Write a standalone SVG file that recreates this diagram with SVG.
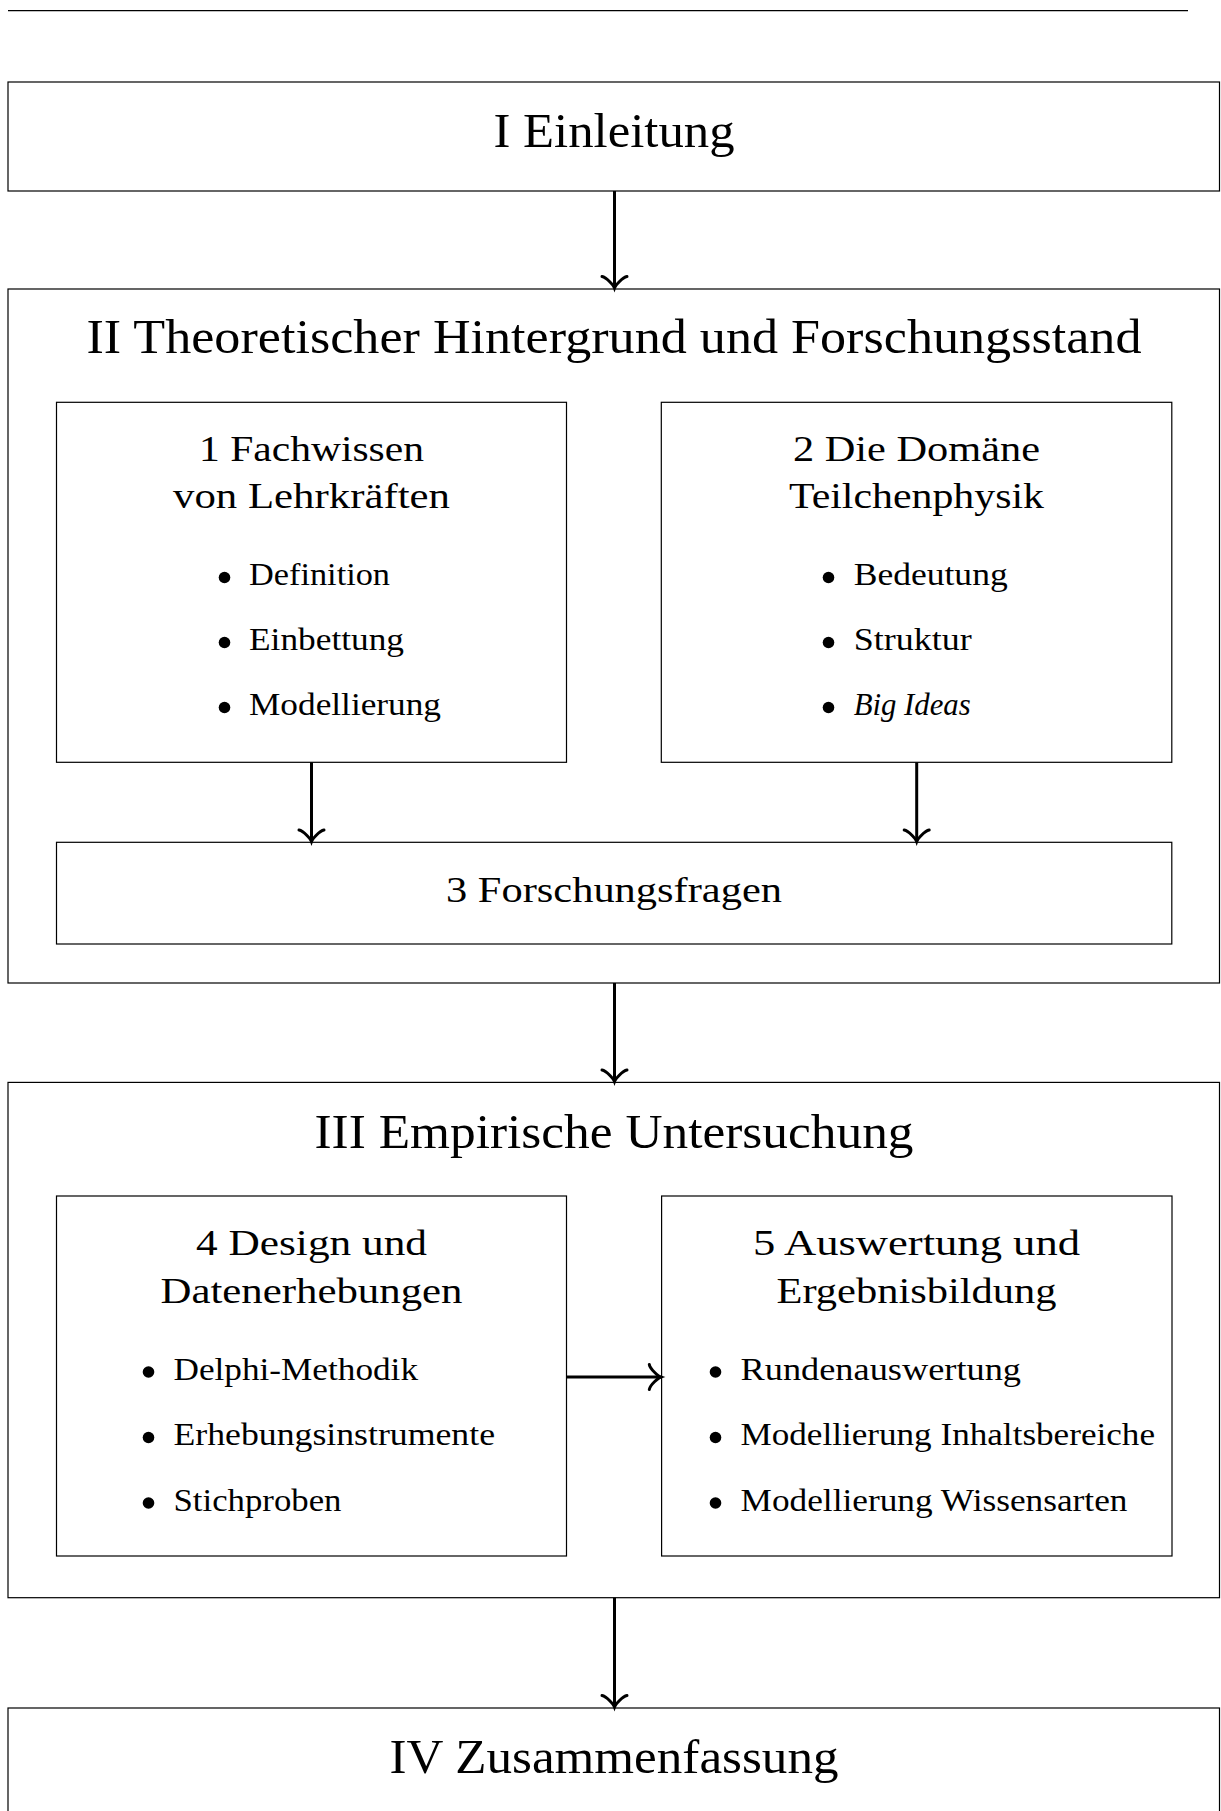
<svg xmlns="http://www.w3.org/2000/svg" width="1221" height="1811" viewBox="0 0 1221 1811">
<style>
.box{fill:none;stroke:#000;stroke-width:1.2}
.conn{fill:none;stroke:#000;stroke-width:3}
text{font-family:"Liberation Serif","Times New Roman",serif;fill:#000}
.h1{font-size:49px;text-anchor:middle}
.h2{font-size:35.5px;text-anchor:middle}
.li{font-size:31.5px}
.it{font-style:italic}
.dot{fill:#000}
</style>
<defs>
<marker id="ah" viewBox="-14 -14 16 28" markerWidth="16" markerHeight="28" refX="0" refY="0" orient="auto" markerUnits="userSpaceOnUse" overflow="visible">
<path d="M-11.5,-12.5 C-10.7,-7.8 -2.3,-0.8 0,0 C-2.3,0.8 -10.7,7.8 -11.5,12.5" fill="none" stroke="#000" stroke-width="3" stroke-linecap="round"/>
</marker>
</defs>
<rect width="1221" height="1811" fill="#fff"/>
<line x1="8" y1="10.7" x2="1188" y2="10.7" stroke="#000" stroke-width="1.3"/>

<g id="einleitung">
<rect class="box" x="8" y="82" width="1211.5" height="109"/>
<text class="h1" x="614" y="146.7" textLength="241" lengthAdjust="spacingAndGlyphs">I Einleitung</text>
</g>

<g id="theorie">
<rect class="box" x="8" y="289" width="1211.5" height="694"/>
<text class="h1" x="614" y="353.3" textLength="1055" lengthAdjust="spacingAndGlyphs">II Theoretischer Hintergrund und Forschungsstand</text>
</g>

<g id="fachwissen">
<rect class="box" x="56.5" y="402.3" width="510" height="360"/>
<text class="h2" x="311.5" y="460.7" textLength="225" lengthAdjust="spacingAndGlyphs">1 Fachwissen</text>
<text class="h2" x="311.5" y="508.3" textLength="277" lengthAdjust="spacingAndGlyphs">von Lehrkräften</text>
<circle class="dot" cx="224.5" cy="577.5" r="5.8"/>
<text class="li" x="249" y="585" textLength="141" lengthAdjust="spacingAndGlyphs">Definition</text>
<circle class="dot" cx="224.5" cy="642.5" r="5.8"/>
<text class="li" x="249" y="650" textLength="155" lengthAdjust="spacingAndGlyphs">Einbettung</text>
<circle class="dot" cx="224.5" cy="707.5" r="5.8"/>
<text class="li" x="249" y="715" textLength="192" lengthAdjust="spacingAndGlyphs">Modellierung</text>
</g>

<g id="domaene">
<rect class="box" x="661.3" y="402.3" width="510.5" height="360"/>
<text class="h2" x="916.5" y="460.7" textLength="247" lengthAdjust="spacingAndGlyphs">2 Die Domäne</text>
<text class="h2" x="916.5" y="508.3" textLength="255" lengthAdjust="spacingAndGlyphs">Teilchenphysik</text>
<circle class="dot" cx="828.5" cy="577.5" r="5.8"/>
<text class="li" x="853.7" y="585" textLength="154" lengthAdjust="spacingAndGlyphs">Bedeutung</text>
<circle class="dot" cx="828.5" cy="642.5" r="5.8"/>
<text class="li" x="853.7" y="650" textLength="118" lengthAdjust="spacingAndGlyphs">Struktur</text>
<circle class="dot" cx="828.5" cy="707.5" r="5.8"/>
<text class="li it" x="853.7" y="715" textLength="117" lengthAdjust="spacingAndGlyphs">Big Ideas</text>
</g>

<g id="forschungsfragen">
<rect class="box" x="56.5" y="842.3" width="1115.3" height="101.7"/>
<text class="h2" x="614" y="902.3" textLength="336" lengthAdjust="spacingAndGlyphs">3 Forschungsfragen</text>
</g>

<g id="empirie">
<rect class="box" x="8" y="1082.4" width="1211.5" height="515.3"/>
<text class="h1" x="614" y="1148" textLength="599" lengthAdjust="spacingAndGlyphs">III Empirische Untersuchung</text>
</g>

<g id="design">
<rect class="box" x="56.5" y="1196" width="510" height="360"/>
<text class="h2" x="311.5" y="1255" textLength="231" lengthAdjust="spacingAndGlyphs">4 Design und</text>
<text class="h2" x="311.5" y="1303.3" textLength="302" lengthAdjust="spacingAndGlyphs">Datenerhebungen</text>
<circle class="dot" cx="148.5" cy="1372" r="5.8"/>
<text class="li" x="173.5" y="1379.5" textLength="244.5" lengthAdjust="spacingAndGlyphs">Delphi-Methodik</text>
<circle class="dot" cx="148.5" cy="1437.5" r="5.8"/>
<text class="li" x="173.5" y="1445" textLength="321.5" lengthAdjust="spacingAndGlyphs">Erhebungsinstrumente</text>
<circle class="dot" cx="148.5" cy="1503" r="5.8"/>
<text class="li" x="173.5" y="1510.5" textLength="168" lengthAdjust="spacingAndGlyphs">Stichproben</text>
</g>

<g id="auswertung">
<rect class="box" x="661.6" y="1196" width="510.4" height="360"/>
<text class="h2" x="916.5" y="1255" textLength="327" lengthAdjust="spacingAndGlyphs">5 Auswertung und</text>
<text class="h2" x="916.5" y="1303.3" textLength="280" lengthAdjust="spacingAndGlyphs">Ergebnisbildung</text>
<circle class="dot" cx="715.5" cy="1372" r="5.8"/>
<text class="li" x="740.5" y="1379.5" textLength="280.5" lengthAdjust="spacingAndGlyphs">Rundenauswertung</text>
<circle class="dot" cx="715.5" cy="1437.5" r="5.8"/>
<text class="li" x="740.5" y="1445" textLength="414.5" lengthAdjust="spacingAndGlyphs">Modellierung Inhaltsbereiche</text>
<circle class="dot" cx="715.5" cy="1503" r="5.8"/>
<text class="li" x="740.5" y="1510.5" textLength="387" lengthAdjust="spacingAndGlyphs">Modellierung Wissensarten</text>
</g>

<g id="zusammenfassung">
<rect class="box" x="8" y="1708" width="1211.5" height="130"/>
<text class="h1" x="614" y="1773.3" textLength="449" lengthAdjust="spacingAndGlyphs">IV Zusammenfassung</text>
</g>

<g id="connectors">
<line class="conn" x1="614.5" y1="191" x2="614.5" y2="288" marker-end="url(#ah)"/>
<line class="conn" x1="311.5" y1="762.3" x2="311.5" y2="841.5" marker-end="url(#ah)"/>
<line class="conn" x1="916.7" y1="762.3" x2="916.7" y2="841.5" marker-end="url(#ah)"/>
<line class="conn" x1="614.5" y1="983" x2="614.5" y2="1081.5" marker-end="url(#ah)"/>
<line class="conn" x1="566.5" y1="1377" x2="660.8" y2="1377" marker-end="url(#ah)"/>
<line class="conn" x1="614.5" y1="1597.7" x2="614.5" y2="1707" marker-end="url(#ah)"/>
</g>
</svg>
